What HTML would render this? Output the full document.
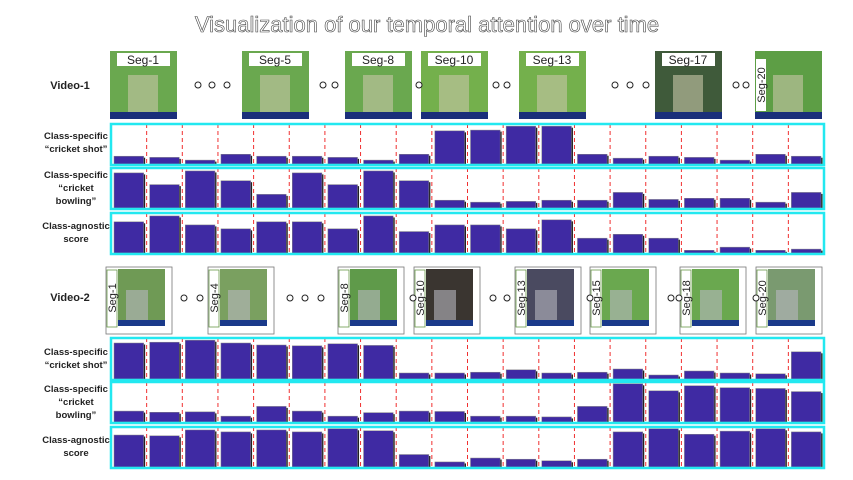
<!DOCTYPE html>
<html><head><meta charset="utf-8">
<style>
html,body{margin:0;padding:0;background:#fff;width:853px;height:480px;overflow:hidden}
svg{display:block;font-family:"Liberation Sans",sans-serif}
.lab{font-size:9.5px;font-weight:bold;fill:#222;text-anchor:middle}
</style></head><body>
<svg id="fig" width="853" height="480" viewBox="0 0 853 480">
<text x="427" y="32" text-anchor="middle" font-size="22" fill="#fff" stroke="#444" stroke-width="0.6">Visualization of our temporal attention over time</text>
<text x="70" y="89" text-anchor="middle" font-size="11" font-weight="bold" fill="#222">Video-1</text>
<text x="70" y="301" text-anchor="middle" font-size="11" font-weight="bold" fill="#222">Video-2</text>
<g>
<text class="lab" x="76" y="139">Class-specific</text><text class="lab" x="76" y="152">“cricket shot”</text>
<text class="lab" x="76" y="178">Class-specific</text><text class="lab" x="76" y="191">“cricket</text><text class="lab" x="76" y="204">bowling”</text>
<text class="lab" x="76" y="229">Class-agnostic</text><text class="lab" x="76" y="242">score</text>
<text class="lab" x="76" y="355">Class-specific</text><text class="lab" x="76" y="368">“cricket shot”</text>
<text class="lab" x="76" y="392">Class-specific</text><text class="lab" x="76" y="405">“cricket</text><text class="lab" x="76" y="418">bowling”</text>
<text class="lab" x="76" y="443">Class-agnostic</text><text class="lab" x="76" y="456">score</text>
</g>
<g id="thumbs"></g>
<g id="panels"></g>
</svg>
<script>
const segments = [1,2,3,4,5,6,7,8,9,10,11,12,13,14,15,16,17,18,19,20];
const v1Shot =     [0.2,0.17,0.1,0.25,0.2,0.2,0.17,0.1,0.25,0.85,0.87,0.97,0.97,0.25,0.15,0.2,0.17,0.1,0.25,0.2];
const v1Bowling =  [0.9,0.6,0.95,0.7,0.35,0.9,0.6,0.95,0.7,0.2,0.15,0.17,0.2,0.2,0.4,0.22,0.25,0.25,0.15,0.4];
const v1Agnostic = [0.8,0.95,0.72,0.62,0.8,0.8,0.62,0.95,0.55,0.72,0.72,0.62,0.85,0.38,0.48,0.38,0.07,0.15,0.07,0.1];
const v2Shot =     [0.9,0.92,0.97,0.9,0.85,0.83,0.88,0.84,0.15,0.15,0.17,0.23,0.15,0.17,0.25,0.1,0.2,0.15,0.13,0.68];
const v2Bowling =  [0.28,0.25,0.26,0.15,0.4,0.28,0.15,0.24,0.28,0.27,0.15,0.15,0.13,0.4,0.98,0.8,0.93,0.88,0.86,0.78];
const v2Agnostic = [0.82,0.8,0.95,0.9,0.95,0.9,0.98,0.93,0.32,0.13,0.23,0.2,0.16,0.2,0.9,0.98,0.84,0.92,0.98,0.9];
const v1Thumbs = ["Seg-1","Seg-5","Seg-8","Seg-10","Seg-13","Seg-17","Seg-20"];
const v2Thumbs = ["Seg-1","Seg-4","Seg-8","Seg-10","Seg-13","Seg-15","Seg-18","Seg-20"];

const NS="http://www.w3.org/2000/svg";
function mk(tag,attrs,parent){const e=document.createElementNS(NS,tag);for(const k in attrs)e.setAttribute(k,attrs[k]);parent.appendChild(e);return e;}
const X0=111,X1=824,slot=(X1-X0)/segments.length;
const xScale=i=>X0+i*slot;
const panelsG=document.getElementById('panels');
const panelDefs=[[v1Shot,124,165,'v1-cricket-shot'],[v1Bowling,168,209,'v1-cricket-bowling'],[v1Agnostic,213,254,'v1-class-agnostic'],
 [v2Shot,338,380,'v2-cricket-shot'],[v2Bowling,382,423,'v2-cricket-bowling'],[v2Agnostic,427,468,'v2-class-agnostic']];
panelDefs.forEach(([vals,y0,y1,name])=>{
  const g=mk('g',{},panelsG);
  
  
  const h=y1-y0-2;
  const yScale=v=>v*h;
  for(let i=1;i<segments.length;i++){
    const l=mk('line',{x1:xScale(i),x2:xScale(i),y1:y0,y2:y1,stroke:'#f03030','stroke-width':1,'stroke-dasharray':'4,3'},g);
    
    
  }
  vals.forEach((v,i)=>{
    const bh=yScale(v),bx=xScale(i)+3,bw=slot-6;
    mk('rect',{x:bx+1.5,y:y1-1-bh+1.5,width:bw,height:bh-1.5,fill:'#222'},g);
    const r=mk('rect',{x:bx,y:y1-1-bh,width:bw,height:bh,fill:'#3f2aa3',stroke:'#888','stroke-width':0.5},g);
    
    
  });
  mk('rect',{x:X0,y:y0,width:X1-X0,height:y1-y0,fill:'none',stroke:'#22e8f0','stroke-width':2.5},g);
});

const th=document.getElementById('thumbs');
const v1x=[110,242,345,421,519,655,755];
const greens=['#6aa84f','#6aa84f','#6aa84f','#74b04c','#74b04c','#3f5a3a','#5d9e45'];
v1Thumbs.forEach((t,i)=>{
  const g=mk('g',{},th);
  
  
  const x=v1x[i];
  mk('rect',{x:x,y:51,width:67,height:68,fill:greens[i]},g);
  mk('rect',{x:x+18,y:75,width:30,height:38,fill:'#c8c6a8',opacity:0.6},g);
  mk('rect',{x:x,y:112,width:67,height:7,fill:'#1a2f7a'},g);
  if(i<6){
    mk('rect',{x:x+7,y:53,width:53,height:13,fill:'#fff'},g);
    mk('text',{x:x+33,y:64,'text-anchor':'middle','font-size':12,fill:'#222'},g).textContent=t;
  } else {
    mk('rect',{x:x+1,y:59,width:10,height:52,fill:'#fff'},g);
    mk('text',{x:0,y:0,'text-anchor':'middle','font-size':11,fill:'#222',transform:`translate(${x+10},85) rotate(-90)`},g).textContent=t;
  }
});
const v2x=[106,208,338,414,515,590,680,756];
const g2=['#6f9a55','#7aa060','#5f9a4a','#3a3530','#4a4a60','#6aa84f','#6aa84f','#7a9a70'];
v2Thumbs.forEach((t,i)=>{
  const g=mk('g',{},th);
  
  
  const x=v2x[i];
  mk('rect',{x:x,y:267,width:66,height:67,fill:'#fff',stroke:'#777','stroke-width':0.8},g);
  mk('rect',{x:x+12,y:269,width:47,height:57,fill:g2[i]},g);
  mk('rect',{x:x+20,y:290,width:22,height:30,fill:'#b8b8c0',opacity:0.6},g);
  mk('rect',{x:x+12,y:320,width:47,height:6,fill:'#1a3a8a'},g);
  mk('rect',{x:x+1,y:270,width:10,height:57,fill:'#fff',stroke:'#6a9a4a','stroke-width':0.8},g);
  mk('text',{x:0,y:0,'text-anchor':'middle','font-size':11,fill:'#222',transform:`translate(${x+10},298) rotate(-90)`},g).textContent=t;
});
const c1=[[198,85],[212,85],[227,85],[323,85],[335,85],[419,85],[496,85],[507,85],[615,85],[630,85],[646,85],[736,85],[746,85]];
const c2=[[184,298],[200,298],[290,298],[305,298],[321,298],[413,298],[493,298],[507,298],[590,298],[671,298],[679,298],[756,298]];
c1.concat(c2).forEach(([x,y])=>{
  const c=mk('circle',{cx:x,cy:y,r:3,fill:'#fff',stroke:'#222','stroke-width':1},th);
  
  
});
</script>
</body></html>
